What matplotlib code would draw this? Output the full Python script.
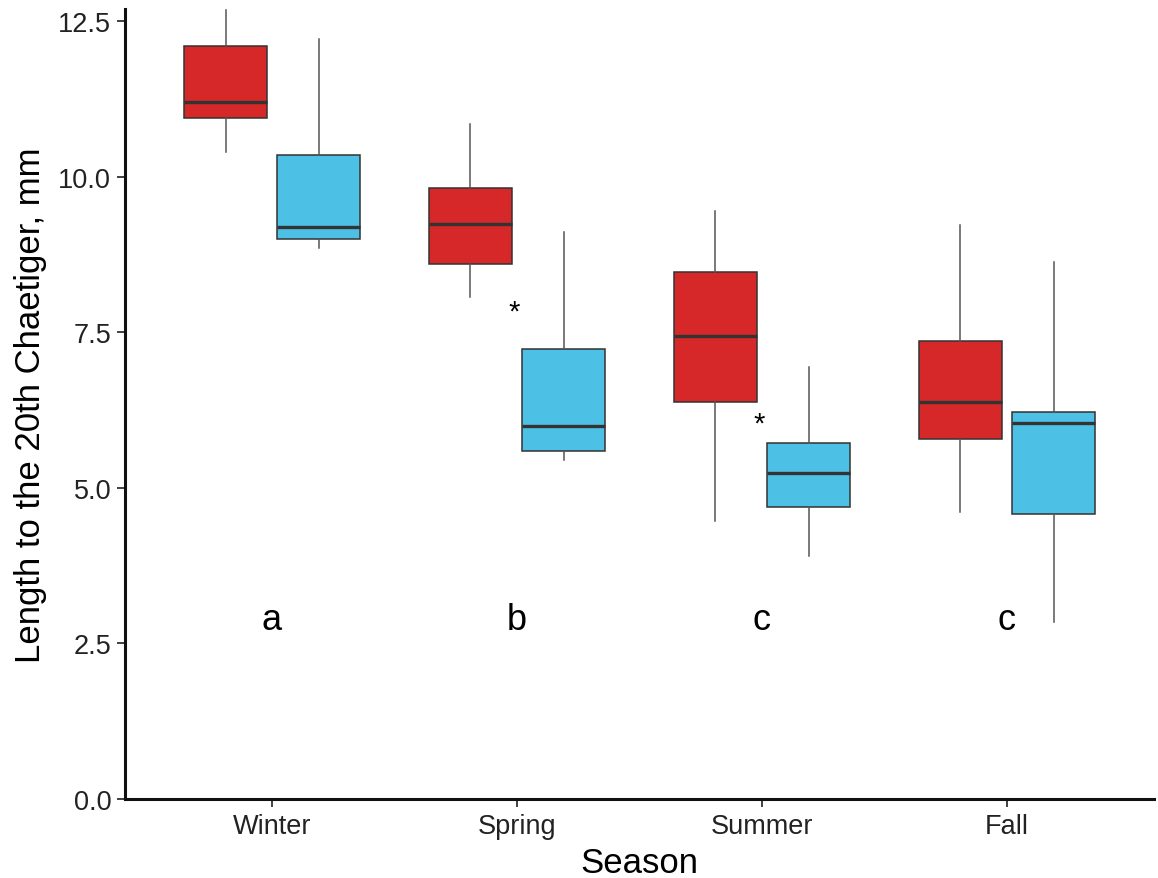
import matplotlib
matplotlib.use("Agg")
import matplotlib.pyplot as plt
import numpy as np

plt.rcParams['font.family'] = ['Liberation Sans', 'DejaVu Sans']

# Data
seasons = ['Winter', 'Spring', 'Summer', 'Fall']
letters = ['a', 'b', 'c', 'c']

# five-number summaries per season: lower whisker, Q1, median, Q3, upper whisker
red_low = [10.40, 8.07, 4.47, 4.61]
red_q1 = [10.94, 8.60, 6.39, 5.78]
red_med = [11.20, 9.24, 7.44, 6.39]
red_q3 = [12.10, 9.82, 8.47, 7.37]
red_high = [12.69, 10.85, 9.45, 9.22]

blue_low = [8.85, 5.45, 3.90, 2.84]
blue_q1 = [9.00, 5.59, 4.69, 4.58]
blue_med = [9.19, 5.99, 5.24, 6.04]
blue_q3 = [10.36, 7.23, 5.72, 6.22]
blue_high = [12.21, 9.11, 6.94, 8.64]

# significance markers (season index, height)
star_idx = [1, 2]
star_y = [7.84, 6.03]
letter_y = 2.88

RED = '#D62828'
BLUE = '#4DC0E6'
EDGE = '#333333'

fig = plt.figure(figsize=(11.58, 8.79), dpi=100)
ax = fig.add_axes([0.108, 0.0899, 0.8885, 0.8987])

x = np.arange(1, len(seasons) + 1)
offset = 0.19
width = 0.34


def make_stats(low, q1, med, q3, high):
    return [dict(whislo=a, q1=b, med=c, q3=d, whishi=e, fliers=[])
            for a, b, c, d, e in zip(low, q1, med, q3, high)]


groups = [
    (make_stats(red_low, red_q1, red_med, red_q3, red_high), x - offset, RED),
    (make_stats(blue_low, blue_q1, blue_med, blue_q3, blue_high), x + offset, BLUE),
]

for stats, pos, col in groups:
    ax.bxp(stats, positions=pos, widths=width, showcaps=False,
           showfliers=False, patch_artist=True,
           boxprops=dict(facecolor=col, edgecolor=EDGE, linewidth=1.1),
           medianprops=dict(color=EDGE, linewidth=2.4, solid_capstyle='butt'),
           whiskerprops=dict(color='#555555', linewidth=1.1),
           zorder=2)

for i, yv in zip(star_idx, star_y):
    ax.text(x[i] - 0.01, yv, '*', ha='center', va='center', fontsize=21)

for xi, lab in zip(x, letters):
    ax.text(xi, letter_y, lab, ha='center', va='center', fontsize=26)

ax.set_xlim(0.4, 4.6)
ax.set_ylim(0, 12.7)
ax.set_xticks(x)
ax.set_xticklabels(seasons)
ax.set_yticks([0, 2.5, 5.0, 7.5, 10.0, 12.5])
ax.set_yticklabels(['0.0', '2.5', '5.0', '7.5', '10.0', '12.5'])
ax.tick_params(axis='both', labelsize=19.5, length=6, width=1.3,
               color='#333333', labelcolor='#222222', pad=4)

for side in ['top', 'right']:
    ax.spines[side].set_visible(False)
for side in ['left', 'bottom']:
    ax.spines[side].set_linewidth(2.2)
    ax.spines[side].set_color('#111111')

ax.set_xlabel('Season', fontsize=25, labelpad=5)
ax.set_ylabel('Length to the 20th Chaetiger, mm', fontsize=25, labelpad=8)

fig.savefig('out.png', dpi=100, facecolor='white')
